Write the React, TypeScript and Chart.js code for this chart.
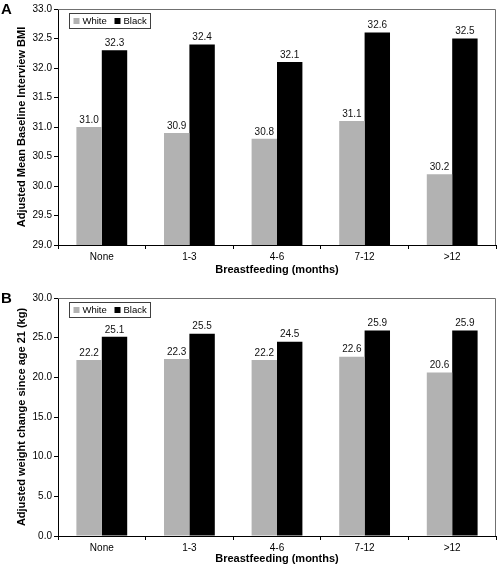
import React, { useEffect, useRef } from "react";
import { Chart, registerables } from "chart.js";

Chart.register(...registerables);

const categories = ["None", "1-3", "4-6", "7-12", ">12"];
const seriesNames = ["White", "Black"];
const seriesColors = ["#b2b2b2", "#000000"];

const bmiWhite = [31.0, 30.9, 30.8, 31.1, 30.2];
const bmiBlack = [32.3, 32.4, 32.1, 32.6, 32.5];
const bmiTicks = { min: 29, max: 33, step: 0.5 };

const weightWhite = [22.2, 22.3, 22.2, 22.6, 20.6];
const weightBlack = [25.1, 25.5, 24.5, 25.9, 25.9];
const weightTicks = { min: 0, max: 30, step: 5 };

const FONT = "'Liberation Sans', Arial, Helvetica, sans-serif";

const framePlugin = {
  id: "frame",
  afterDraw(chart: any) {
    const { ctx, chartArea: a } = chart;
    ctx.save();
    ctx.strokeStyle = "#707070";
    ctx.lineWidth = 1;
    ctx.beginPath();
    ctx.moveTo(a.left, Math.round(a.top) + 0.5);
    ctx.lineTo(Math.round(a.right) - 0.5, Math.round(a.top) + 0.5);
    ctx.lineTo(Math.round(a.right) - 0.5, a.bottom);
    ctx.stroke();
    ctx.restore();
  },
};

const valueLabelPlugin = {
  id: "valueLabels",
  afterDatasetsDraw(chart: any) {
    const { ctx } = chart;
    ctx.save();
    ctx.font = `10px ${FONT}`;
    ctx.fillStyle = "#111";
    ctx.textAlign = "center";
    ctx.textBaseline = "bottom";
    chart.data.datasets.forEach((ds: any, i: number) => {
      const meta = chart.getDatasetMeta(i);
      meta.data.forEach((el: any, j: number) => {
        ctx.fillText(Number(ds.data[j]).toFixed(1), el.x, el.y - 2);
      });
    });
    ctx.restore();
  },
};

const boxLegendPlugin = {
  id: "boxLegend",
  afterDraw(chart: any) {
    const { ctx, chartArea: a } = chart;
    const x0 = Math.round(a.left) + 11.5;
    const y0 = Math.round(a.top) + 4.5;
    ctx.save();
    ctx.strokeStyle = "#404040";
    ctx.lineWidth = 1;
    ctx.fillStyle = "#fff";
    ctx.fillRect(x0, y0, 81, 15);
    ctx.strokeRect(x0, y0, 81, 15);
    ctx.font = `9.5px ${FONT}`;
    ctx.textBaseline = "middle";
    ctx.textAlign = "left";
    const offsets = [4, 45];
    chart.data.datasets.forEach((ds: any, i: number) => {
      const sx = x0 + offsets[i];
      ctx.fillStyle = ds.backgroundColor;
      ctx.fillRect(sx, y0 + 4.5, 6, 6);
      ctx.fillStyle = "#000";
      ctx.fillText(ds.label, sx + 9, y0 + 8);
    });
    ctx.restore();
  },
};

const letterPlugin = {
  id: "panelLetter",
  afterDraw(chart: any) {
    const opts = chart.options.plugins.panelLetter;
    if (!opts) return;
    const { ctx } = chart;
    ctx.save();
    ctx.font = `bold 15px ${FONT}`;
    ctx.fillStyle = "#000";
    ctx.textAlign = "left";
    ctx.textBaseline = "alphabetic";
    ctx.fillText(opts.text, 1, opts.y);
    ctx.restore();
  },
};

function makeConfig(
  white: number[],
  black: number[],
  ticks: { min: number; max: number; step: number },
  yTitle: string,
  letter: string,
  letterY: number,
  padTop: number,
  xHeight: number,
  xTitlePad: number
): any {
  return {
    type: "bar",
    data: {
      labels: categories,
      datasets: [
        { label: seriesNames[0], data: white, backgroundColor: seriesColors[0], barPercentage: 1, categoryPercentage: 0.58 },
        { label: seriesNames[1], data: black, backgroundColor: seriesColors[1], barPercentage: 1, categoryPercentage: 0.58 },
      ],
    },
    options: {
      responsive: false,
      animation: false,
      layout: { padding: { top: padTop, right: 1, left: 0, bottom: 0 } },
      plugins: {
        legend: { display: false },
        tooltip: { enabled: false },
        panelLetter: { text: letter, y: letterY },
      },
      scales: {
        x: {
          ticks: { color: "#000", font: { size: 10, family: FONT }, padding: 2 },
          grid: { drawOnChartArea: false, drawTicks: true, tickLength: 4, color: "#000", tickColor: "#000", offset: true },
          border: { display: true, color: "#000", width: 1 },
          title: {
            display: true,
            text: "Breastfeeding (months)",
            color: "#000",
            font: { size: 11, weight: "bold", family: FONT, lineHeight: 1.2 },
            padding: { top: 0, bottom: xTitlePad },
          },
          afterFit: (s: any) => {
            s.height = xHeight;
          },
        },
        y: {
          min: ticks.min,
          max: ticks.max,
          ticks: {
            stepSize: ticks.step,
            color: "#000",
            font: { size: 10, family: FONT },
            padding: 2,
            callback: (v: any) => Number(v).toFixed(1),
          },
          grid: { drawOnChartArea: false, drawTicks: true, tickLength: 4, color: "#000", tickColor: "#000" },
          border: { display: true, color: "#000", width: 1 },
          title: {
            display: true,
            text: yTitle,
            color: "#000",
            font: { size: 11, weight: "bold", family: FONT, lineHeight: 1.2 },
            padding: { top: 15, bottom: 0 },
          },
          afterFit: (s: any) => {
            s.width = 58;
          },
        },
      },
    },
    plugins: [framePlugin, valueLabelPlugin, boxLegendPlugin, letterPlugin],
  };
}

function Panel(props: { config: () => any; top: number; height: number }) {
  const ref = useRef<HTMLCanvasElement | null>(null);
  useEffect(() => {
    if (!ref.current) return;
    const chart = new Chart(ref.current, props.config());
    return () => chart.destroy();
  }, []);
  return (
    <canvas
      ref={ref}
      width={497}
      height={props.height}
      style={{ position: "absolute", left: 0, top: props.top, width: 497, height: props.height, display: "block" }}
    />
  );
}

export default function App() {
  return (
    <div style={{ position: "absolute", left: 0, top: 0, width: 497, height: 566, background: "#fff" }}>
      <Panel
        top={0}
        height={283}
        config={() =>
          makeConfig(bmiWhite, bmiBlack, bmiTicks, "Adjusted Mean Baseline Interview BMI", "A", 14, 9, 38, 6)
        }
      />
      <Panel
        top={283}
        height={283}
        config={() =>
          makeConfig(weightWhite, weightBlack, weightTicks, "Adjusted weight change since age 21 (kg)", "B", 20, 15, 30, 0)
        }
      />
    </div>
  );
}
